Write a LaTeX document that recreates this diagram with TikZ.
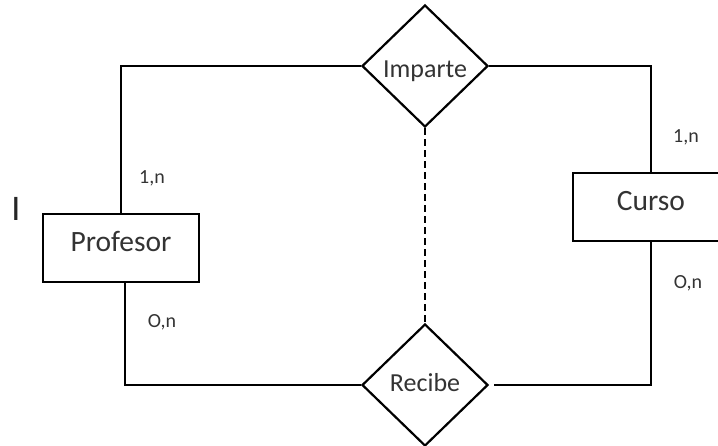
\documentclass[tikz,border=0pt]{standalone}
\usepackage{fontspec}
\setmainfont{Carlito}
\usetikzlibrary{shapes.geometric}

\begin{document}
\begin{tikzpicture}[
    x=1pt, y=-1pt,
    entity/.style={
        draw,
        line width=2.8pt,
        minimum width=156pt,
        minimum height=68pt,
        inner sep=0pt,
        text height=19pt,
        text depth=13pt,
        text=black!80,
        font=\fontsize{29.5}{34}\selectfont
    },
    relation/.style={
        diamond,
        draw,
        line width=2.2pt,
        aspect=1,
        inner sep=0pt,
        minimum width=126pt,
        minimum height=122pt,
        text height=16pt,
        text depth=4pt,
        text=black!80,
        font=\fontsize{26}{30}\selectfont
    },
    card/.style={
        text=black!80,
        font=\fontsize{20}{24}\selectfont
    },
    link/.style={line width=1.3pt}
]
    \useasboundingbox (0,0) rectangle (718,445);
    \clip (0,0) rectangle (718,445);

    \node[entity] (prof) at (121,248) {Profesor};
    \node[entity] (curso) at (651,207) {Curso};
    \node[relation, text height=22pt, text depth=0pt] (imparte) at (425,66) {Imparte};
    \node[relation] (recibe) at (425,385) {Recibe};

    \node[card] (profone) at (152,178) {1,n};
    \node[card] (profzero) at (162,322) {O,n};
    \node[card] (cursoone) at (686,137) {1,n};
    \node[card] (cursozero) at (688,283) {O,n};

    \node[text=black!85, font=\fontsize{36}{40}\selectfont] (cursor) at (16,209) {I};

    \draw[link] (prof.north) |- (imparte.west);
    \draw[link] (imparte.east) -| (curso.north);
    \draw[link] ([xshift=4pt]prof.south) |- (recibe.west);
    \draw[link, shorten <=5pt] (recibe.east) -| (curso.south);
    \draw[link, dash pattern=on 7pt off 4pt] (imparte.south) -- (recibe.north);
\end{tikzpicture}
\end{document}
